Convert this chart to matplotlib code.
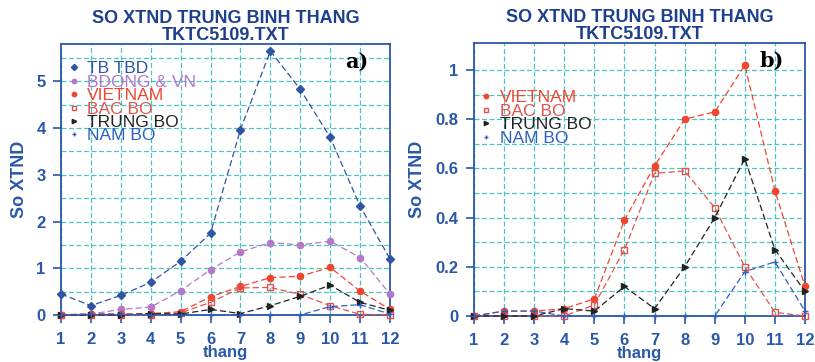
import matplotlib.pyplot as plt

plt.rcParams['font.family'] = ['Liberation Sans', 'DejaVu Sans']

months = list(range(1, 13))

tb_tbd = [0.45, 0.20, 0.42, 0.70, 1.15, 1.75, 3.97, 5.65, 4.83, 3.80, 2.33, 1.20]
bdong_vn = [0.01, 0.02, 0.12, 0.17, 0.52, 0.97, 1.35, 1.55, 1.50, 1.58, 1.23, 0.45]
vietnam = [0.00, 0.02, 0.02, 0.03, 0.07, 0.39, 0.61, 0.80, 0.83, 1.02, 0.51, 0.12]
bac_bo = [0.00, 0.00, 0.00, 0.00, 0.045, 0.27, 0.58, 0.59, 0.44, 0.20, 0.015, 0.00]
trung_bo = [0.00, 0.00, 0.00, 0.03, 0.02, 0.12, 0.03, 0.20, 0.40, 0.64, 0.27, 0.10]
nam_bo = [0.00, 0.02, 0.02, 0.00, 0.00, 0.00, 0.00, 0.00, 0.00, 0.18, 0.22, 0.02]

title = "SO XTND TRUNG BINH THANG\nTKTC5109.TXT"
blue = '#2a58a8'
grid_col = '#4cc4c0'

series = {
    'TB TBD': (tb_tbd, '#2f55a5', 'D', 'full'),
    'BDONG & VN': (bdong_vn, '#b477c9', 'o', 'full'),
    'VIETNAM': (vietnam, '#f0452f', 'o', 'full'),
    'BAC BO': (bac_bo, '#e2534d', 's', 'none'),
    'TRUNG BO': (trung_bo, '#222222', '>', 'full'),
    'NAM BO': (nam_bo, '#2d5fc0', '+', 'full'),
}

fig = plt.figure(figsize=(8.15, 3.62), dpi=100)
ax1 = fig.add_axes([61/815, 1 - 315/362, 329/815, 271/362])
ax2 = fig.add_axes([474/815, 1 - 316/362, 331/815, 273/362])


def setup(ax, names, ylim, major, minor, tag):
    for n in names:
        y, c, m, fs = series[n]
        ax.plot(months, y, linestyle=(0, (5, 2.5)), lw=0.9, color=c, marker=m,
                ms=4.5, fillstyle=fs, mew=1.0, label=n, clip_on=False, zorder=3)
    ax.set_xlim(1, 12)
    ax.set_ylim(*ylim)
    ax.set_xticks(months)
    ax.set_yticks(major)
    ax.set_yticks(minor, minor=True)
    ax.grid(True, which='both', color=grid_col, linestyle=(0, (4, 2)), lw=0.9)
    ax.set_axisbelow(True)
    for s in ax.spines.values():
        s.set_color(blue)
        s.set_linewidth(1.3)
    ax.tick_params(colors=blue, labelsize=12, width=1.2, length=6, pad=5)
    ax.tick_params(axis='x', pad=6)
    ax.tick_params(which='minor', length=0)
    for lab in ax.get_xticklabels() + ax.get_yticklabels():
        lab.set_fontweight('bold')
    ax.set_xlabel('thang', color=blue, fontsize=12, fontweight='bold', labelpad=-1)
    ax.set_title(title, color='#1e3f8c', fontsize=13, fontweight='bold', linespacing=1.0, pad=3)
    ax.text(0.9, 0.934, tag, transform=ax.transAxes, fontsize=15, fontweight='bold',
            family='DejaVu Serif', ha='center', va='center')


setup(ax1, ['TB TBD', 'BDONG & VN', 'VIETNAM', 'BAC BO', 'TRUNG BO', 'NAM BO'],
      (0, 5.8), [0, 1, 2, 3, 4, 5], [0.5, 1.5, 2.5, 3.5, 4.5, 5.5], 'a)')
setup(ax2, ['VIETNAM', 'BAC BO', 'TRUNG BO', 'NAM BO'],
      (0, 1.11), [0, 0.2, 0.4, 0.6, 0.8, 1.0], [0.1, 0.3, 0.5, 0.7, 0.9], 'b)')
ax2.set_yticklabels(['0', '0.2', '0.4', '0.6', '0.8', '1'], fontweight='bold')
ax1.set_ylabel('So XTND', color=blue, fontsize=13, fontweight='bold', labelpad=6)
ax2.set_ylabel('So XTND', color=blue, fontsize=13, fontweight='bold', labelpad=7)

for ax, anchor in [(ax1, (-0.02, 0.975)), (ax2, (-0.02, 0.865))]:
    leg = ax.legend(loc='upper left', bbox_to_anchor=anchor, frameon=False, fontsize=12.5,
                    labelspacing=-0.1, handlelength=1.0, handletextpad=0.3,
                    borderaxespad=0.2, markerscale=0.7)
    for txt, h in zip(leg.get_texts(), leg.legend_handles):
        txt.set_color(h.get_color())
        h.set_linestyle('none')

fig.savefig('out.png', dpi=100)
